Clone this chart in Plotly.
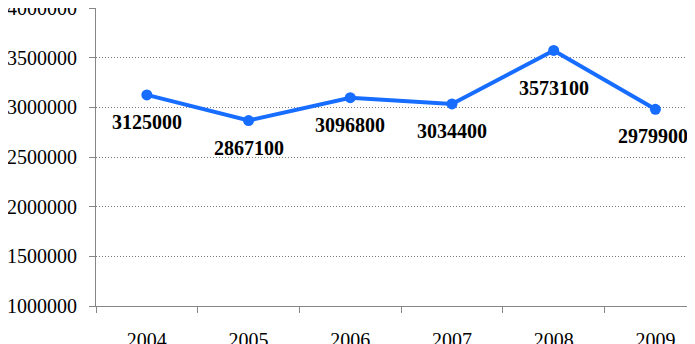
import plotly.graph_objects as go

years = ["2004", "2005", "2006", "2007", "2008", "2009"]
values = [3125000, 2867100, 3096800, 3034400, 3573100, 2979900]
y_ticks = [1000000, 1500000, 2000000, 2500000, 3000000, 3500000, 4000000]

BLUE = "#176dff"
AXIS = "#868686"
FONT = "Liberation Serif"

fig = go.Figure()
fig.add_trace(go.Scatter(
    x=years, y=values, mode="lines+markers",
    line=dict(color=BLUE, width=4),
    marker=dict(color=BLUE, size=11),
    hoverinfo="skip",
))

extra_shift = {"2008": -11}
for i, (x, v) in enumerate(zip(years, values)):
    fig.add_annotation(
        x=i, y=v, xref="x", yref="y", text="<b>" + str(v) + "</b>", showarrow=False,
        yshift=-27 + extra_shift.get(x, 0),
        xshift=-2 if i == len(years) - 1 else 0,
        font=dict(family=FONT, size=20, color="black"),
    )

fig.update_layout(
    width=687, height=336,
    margin=dict(l=88, r=4, t=0, b=38, autoexpand=False),
    paper_bgcolor="white", plot_bgcolor="white",
    showlegend=False,
    font=dict(family=FONT, size=20, color="black"),
)
fig.update_xaxes(
    type="category", range=[-0.5, 5.35],
    showline=True, linecolor=AXIS, linewidth=1,
    ticks="outside", tickson="boundaries", ticklen=6, tickcolor=AXIS,
    showgrid=False, automargin=False, ticklabelstandoff=16,
    tickfont=dict(family=FONT, size=20, color="black"),
)
fig.update_yaxes(
    range=[1000000, 4000000], tickvals=y_ticks, ticktext=[str(t) for t in y_ticks],
    showline=True, linecolor=AXIS, linewidth=1,
    ticks="outside", ticklen=6, tickcolor=AXIS,
    showgrid=True, gridcolor="#7a7a7a", griddash="1px,2px", gridwidth=1,
    zeroline=False, automargin=False, ticklabelstandoff=8,
    ticklabeloverflow="allow",
    tickfont=dict(family=FONT, size=20, color="black"),
)

fig.write_html("out.html")
